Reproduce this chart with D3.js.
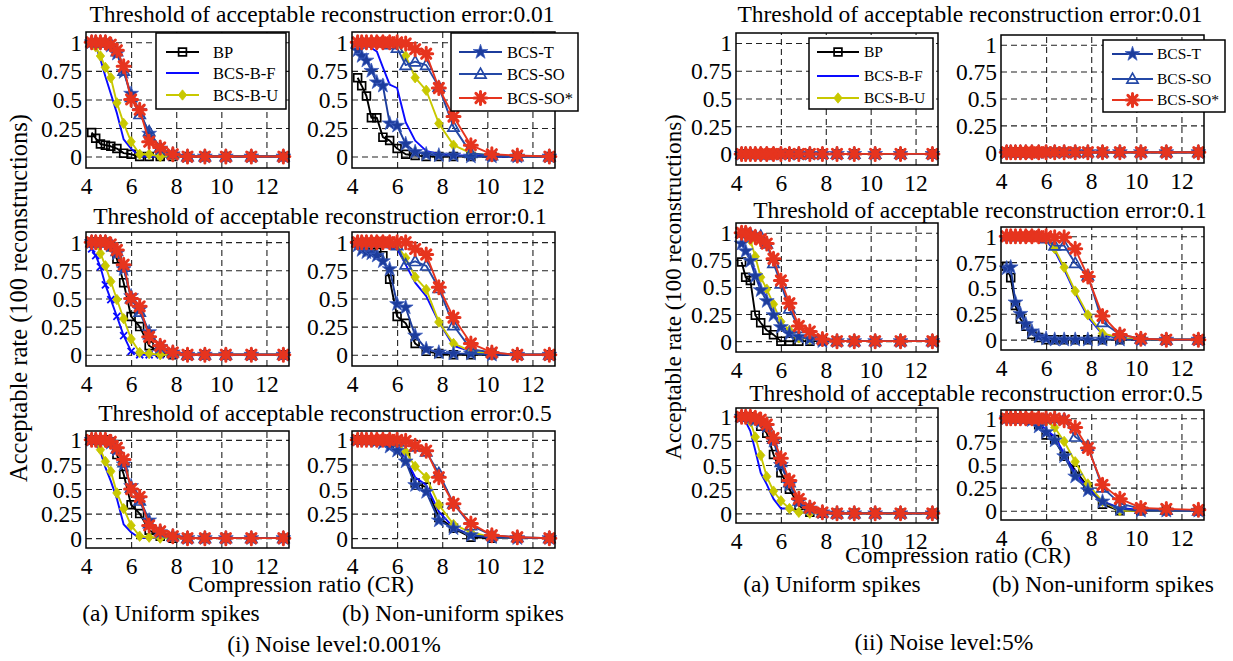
<!DOCTYPE html>
<html>
<head>
<meta charset="utf-8">
<script src="https://cdn.jsdelivr.net/npm/d3@7"></script>
<style>
  body { margin: 0; background: #fff; }
  svg { display: block; }
  text { font-family: "Liberation Serif", "Times New Roman", serif; fill: #000; }
</style>
</head>
<body>
<svg id="chart" width="1233" height="661"></svg>
<script>
// ---- data ----
const compressionRatio = [4.25, 4.43, 4.64, 4.86, 5.10, 5.37, 5.67, 6.00, 6.38, 6.80, 7.29, 7.85, 8.50, 9.27, 10.20, 11.33, 12.75];
const seriesNames = ["BP", "BCS-B-F", "BCS-B-U", "BCS-T", "BCS-SO", "BCS-SO*"];
const xTicks = [4, 6, 8, 10, 12];
const yTicks = [0, 0.25, 0.5, 0.75, 1];
const yTickLabels = ["0", "0.25", "0.5", "0.75", "1"];
const thresholdTitles = [
  "Threshold of acceptable reconstruction error:0.01",
  "Threshold of acceptable reconstruction error:0.1",
  "Threshold of acceptable reconstruction error:0.5"
];
const spikeLabels = ["(a) Uniform spikes", "(b) Non-uniform spikes"];
const noiseLabels = ["(i) Noise level:0.001%", "(ii) Noise level:5%"];
const xAxisTitle = "Compression ratio (CR)";
const yAxisTitle = "Acceptable rate (100 reconstructions)";

// rows: BP, BCS-B-F, BCS-B-U, BCS-T, BCS-SO, BCS-SO*
const lowNoiseErr001Uniform = [
  [0.21, 0.16, 0.11, 0.10, 0.09, 0.07, 0.03, 0.02, 0, 0, 0, 0, 0, 0, 0, 0, 0],
  [1.00, 0.97, 0.85, 0.70, 0.55, 0.38, 0.15, 0.07, 0, 0, 0, 0, 0, 0, 0, 0, 0],
  [1.00, 0.96, 0.88, 0.78, 0.69, 0.47, 0.29, 0.13, 0.02, 0.02, 0, 0, 0, 0, 0, 0, 0],
  [1, 1, 1, 1, 0.97, 0.90, 0.74, 0.55, 0.40, 0.20, 0.07, 0.02, 0, 0, 0, 0, 0],
  [1, 1, 1, 1, 0.98, 0.92, 0.75, 0.52, 0.37, 0.22, 0.08, 0.02, 0, 0, 0, 0, 0],
  [1, 1, 1, 1, 0.98, 0.93, 0.79, 0.50, 0.41, 0.13, 0.08, 0.02, 0, 0, 0, 0, 0]
];
const lowNoiseErr001NonUniform = [
  [0.69, 0.62, 0.53, 0.34, 0.34, 0.17, 0.14, 0.07, 0.02, 0.01, 0, 0, 0, 0, 0, 0, 0],
  [1, 1, 0.98, 0.95, 0.92, 0.78, 0.63, 0.60, 0.30, 0.14, 0.05, 0.02, 0.01, 0.01, 0, 0, 0],
  [1, 1, 1, 1, 1, 1, 1, 0.99, 0.88, 0.69, 0.58, 0.29, 0.10, 0.03, 0.01, 0, 0],
  [0.93, 0.88, 0.84, 0.75, 0.65, 0.62, 0.29, 0.27, 0.11, 0.04, 0.02, 0.01, 0.01, 0, 0, 0, 0],
  [1, 1, 1, 1, 1, 1, 0.98, 0.95, 0.80, 0.83, 0.80, 0.61, 0.26, 0.03, 0.01, 0, 0],
  [1, 1, 1, 1, 1, 1, 1, 1, 0.99, 0.94, 0.90, 0.60, 0.35, 0.10, 0.02, 0.01, 0]
];
const lowNoiseErr01Uniform = [
  [1, 1, 1, 1, 0.96, 0.85, 0.64, 0.34, 0.25, 0.08, 0.02, 0, 0, 0, 0, 0, 0],
  [0.94, 0.88, 0.78, 0.62, 0.49, 0.34, 0.17, 0.03, 0, 0, 0, 0, 0, 0, 0, 0, 0],
  [1, 0.98, 0.90, 0.79, 0.65, 0.49, 0.32, 0.14, 0.02, 0.01, 0, 0, 0, 0, 0, 0, 0],
  [1, 1, 1, 1, 0.97, 0.90, 0.76, 0.52, 0.40, 0.20, 0.07, 0.02, 0, 0, 0, 0, 0],
  [1, 1, 1, 1, 0.98, 0.92, 0.78, 0.50, 0.38, 0.18, 0.08, 0.02, 0, 0, 0, 0, 0],
  [1, 1, 1, 1, 0.98, 0.93, 0.80, 0.50, 0.43, 0.16, 0.08, 0.02, 0, 0, 0, 0, 0]
];
const lowNoiseErr01NonUniform = [
  [0.99, 0.97, 0.95, 0.93, 0.91, 0.88, 0.67, 0.34, 0.28, 0.10, 0.03, 0.01, 0, 0, 0, 0, 0],
  [1, 1, 0.99, 0.98, 0.97, 0.96, 0.95, 0.94, 0.80, 0.64, 0.52, 0.29, 0.08, 0.03, 0.01, 0, 0],
  [1, 1, 1, 1, 1, 1, 0.99, 0.97, 0.86, 0.69, 0.58, 0.29, 0.10, 0.03, 0.01, 0, 0],
  [0.97, 0.93, 0.91, 0.90, 0.88, 0.83, 0.76, 0.45, 0.42, 0.17, 0.05, 0.02, 0.01, 0.01, 0, 0, 0],
  [1, 1, 1, 1, 1, 1, 0.99, 0.97, 0.80, 0.83, 0.79, 0.59, 0.26, 0.05, 0.02, 0, 0],
  [1, 1, 1, 1, 1, 1, 1, 1, 1, 0.94, 0.89, 0.60, 0.33, 0.10, 0.02, 0, 0]
];
const lowNoiseErr05Uniform = [
  [1, 1, 1, 1, 0.98, 0.85, 0.65, 0.34, 0.25, 0.08, 0.02, 0, 0, 0, 0, 0, 0],
  [1, 0.95, 0.88, 0.72, 0.58, 0.40, 0.14, 0.06, 0, 0, 0, 0, 0, 0, 0, 0, 0],
  [1, 0.98, 0.90, 0.78, 0.68, 0.46, 0.30, 0.13, 0.02, 0.01, 0, 0, 0, 0, 0, 0, 0],
  [1, 1, 1, 1, 0.97, 0.90, 0.75, 0.53, 0.40, 0.18, 0.06, 0.02, 0, 0, 0, 0, 0],
  [1, 1, 1, 1, 0.98, 0.91, 0.77, 0.51, 0.38, 0.15, 0.07, 0.02, 0, 0, 0, 0, 0],
  [1, 1, 1, 1, 0.98, 0.92, 0.80, 0.50, 0.42, 0.13, 0.07, 0.02, 0, 0, 0, 0, 0]
];
const lowNoiseErr05NonUniform = [
  [1, 1, 1, 1, 1, 0.99, 0.97, 0.93, 0.82, 0.56, 0.52, 0.21, 0.10, 0.01, 0, 0, 0],
  [1, 1, 1, 1, 1, 1, 0.98, 0.95, 0.81, 0.62, 0.54, 0.27, 0.11, 0.03, 0.01, 0, 0],
  [1, 1, 1, 1, 1, 1, 0.99, 0.97, 0.88, 0.73, 0.62, 0.34, 0.14, 0.06, 0.01, 0, 0],
  [1, 1, 1, 1, 0.99, 0.97, 0.93, 0.89, 0.78, 0.54, 0.47, 0.18, 0.10, 0.03, 0.01, 0, 0],
  [1, 1, 1, 1, 1, 1, 1, 0.99, 0.98, 0.93, 0.88, 0.66, 0.35, 0.13, 0.03, 0.01, 0],
  [1, 1, 1, 1, 1, 1, 1, 1, 0.99, 0.94, 0.89, 0.62, 0.35, 0.15, 0.03, 0.01, 0]
];
const highNoiseErr001Uniform = [
  [0, 0, 0, 0, 0, 0, 0, 0, 0, 0, 0, 0, 0, 0, 0, 0, 0],
  [0, 0, 0, 0, 0, 0, 0, 0, 0, 0, 0, 0, 0, 0, 0, 0, 0],
  [0, 0, 0, 0, 0, 0, 0, 0, 0, 0, 0, 0, 0, 0, 0, 0, 0],
  [0, 0, 0, 0, 0, 0, 0, 0, 0, 0, 0, 0, 0, 0, 0, 0, 0],
  [0, 0, 0, 0, 0, 0, 0, 0, 0, 0, 0, 0, 0, 0, 0, 0, 0],
  [0, 0, 0, 0, 0, 0, 0, 0, 0, 0, 0, 0, 0, 0, 0, 0, 0]
];
const highNoiseErr001NonUniform = [
  [0, 0, 0, 0, 0, 0, 0, 0, 0, 0, 0, 0, 0, 0, 0, 0, 0],
  [0, 0, 0, 0, 0, 0, 0, 0, 0, 0, 0, 0, 0, 0, 0, 0, 0],
  [0, 0, 0, 0, 0, 0, 0, 0, 0, 0, 0, 0, 0, 0, 0, 0, 0],
  [0, 0, 0, 0, 0, 0, 0, 0, 0, 0, 0, 0, 0, 0, 0, 0, 0],
  [0, 0, 0, 0, 0, 0, 0, 0, 0, 0, 0, 0, 0, 0, 0, 0, 0],
  [0, 0, 0, 0, 0, 0, 0, 0, 0, 0, 0, 0, 0, 0, 0, 0, 0]
];
const highNoiseErr01Uniform = [
  [0.73, 0.59, 0.56, 0.24, 0.17, 0.10, 0.06, 0, 0, 0, 0, 0, 0, 0, 0, 0, 0],
  [0.93, 0.86, 0.77, 0.63, 0.50, 0.40, 0.27, 0.15, 0.08, 0.05, 0.02, 0, 0, 0, 0, 0, 0],
  [1, 0.98, 0.93, 0.78, 0.59, 0.48, 0.34, 0.18, 0.10, 0.03, 0.02, 0, 0, 0, 0, 0, 0],
  [0.90, 0.83, 0.74, 0.60, 0.47, 0.37, 0.24, 0.13, 0.07, 0.04, 0.02, 0, 0, 0, 0, 0, 0],
  [1, 1, 0.99, 0.97, 0.97, 0.90, 0.72, 0.53, 0.30, 0.12, 0.07, 0.02, 0, 0, 0, 0, 0],
  [1, 1, 0.97, 0.96, 0.94, 0.90, 0.76, 0.56, 0.35, 0.14, 0.09, 0.02, 0, 0, 0, 0, 0]
];
const highNoiseErr01NonUniform = [
  [0.71, 0.60, 0.33, 0.20, 0.13, 0.05, 0.02, 0, 0, 0, 0, 0, 0, 0, 0, 0, 0],
  [1, 1, 1, 1, 1, 1, 0.99, 0.96, 0.86, 0.68, 0.45, 0.22, 0.05, 0.01, 0, 0, 0],
  [1, 1, 1, 1, 1, 1, 1, 0.97, 0.88, 0.70, 0.47, 0.24, 0.06, 0.02, 0, 0, 0],
  [0.69, 0.70, 0.36, 0.25, 0.15, 0.08, 0.03, 0.01, 0, 0, 0, 0, 0, 0, 0, 0, 0],
  [1, 1, 1, 1, 1, 1, 1, 0.98, 0.91, 0.91, 0.74, 0.62, 0.17, 0.05, 0.01, 0, 0],
  [1, 1, 1, 1, 1, 1, 1, 1, 0.99, 0.99, 0.88, 0.61, 0.23, 0.05, 0.01, 0, 0]
];
const highNoiseErr05Uniform = [
  [1, 1, 1, 0.97, 0.90, 0.83, 0.61, 0.42, 0.25, 0.08, 0.01, 0, 0, 0, 0, 0, 0],
  [1, 0.95, 0.85, 0.65, 0.42, 0.30, 0.15, 0.05, 0.05, 0.01, 0, 0, 0, 0, 0, 0, 0],
  [1, 0.98, 0.95, 0.79, 0.60, 0.38, 0.23, 0.13, 0.05, 0.01, 0, 0, 0, 0, 0, 0, 0],
  [1, 1, 0.99, 0.97, 0.95, 0.90, 0.75, 0.50, 0.30, 0.12, 0.05, 0.01, 0, 0, 0, 0, 0],
  [1, 1, 1, 0.98, 0.96, 0.91, 0.77, 0.53, 0.32, 0.13, 0.06, 0.01, 0, 0, 0, 0, 0],
  [1, 1, 1, 0.99, 0.97, 0.92, 0.78, 0.57, 0.34, 0.15, 0.06, 0.01, 0, 0, 0, 0, 0]
];
const highNoiseErr05NonUniform = [
  [1, 1, 1, 1, 1, 0.98, 0.93, 0.82, 0.77, 0.59, 0.44, 0.26, 0.07, 0, 0, 0, 0],
  [1, 1, 1, 1, 1, 0.99, 0.95, 0.88, 0.80, 0.62, 0.40, 0.25, 0.10, 0.03, 0.01, 0, 0],
  [1, 1, 1, 1, 1, 1, 0.99, 0.97, 0.90, 0.75, 0.53, 0.29, 0.10, 0, 0, 0, 0],
  [1, 1, 1, 1, 1, 0.98, 0.91, 0.85, 0.76, 0.59, 0.37, 0.22, 0.10, 0.02, 0, 0, 0],
  [1, 1, 1, 1, 1, 1, 1, 1, 1, 0.99, 0.80, 0.70, 0.25, 0.08, 0.02, 0.01, 0],
  [1, 1, 1, 1, 1, 1, 1, 1, 1, 0.98, 0.90, 0.68, 0.28, 0.13, 0.03, 0.02, 0.01]
];

// ---- styles ----
const seriesStyle = {
  "BP":      { color: "#000000", marker: "square" },
  "BCS-B-F": { color: "#0a0aff", marker: "none" },
  "BCS-B-U": { color: "#c8c800", marker: "diamond" },
  "BCS-T":   { color: "#1c3c9c", marker: "star" },
  "BCS-SO":  { color: "#2448a6", marker: "triangle" },
  "BCS-SO*": { color: "#e6341e", marker: "asterisk" }
};

const FONT = 23.5;
const svg = d3.select("#chart");

// ---- panel layout ----
const panels = [
  { data: lowNoiseErr001Uniform,     x0: 86,   x1: 289,  y0: 32,  y1: 168, legend: "a" },
  { data: lowNoiseErr001NonUniform,  x0: 352,  x1: 555,  y0: 32,  y1: 168, legend: "b" },
  { data: lowNoiseErr01Uniform,      x0: 86,   x1: 289,  y0: 232, y1: 366, bfMarker: "cross" },
  { data: lowNoiseErr01NonUniform,   x0: 352,  x1: 555,  y0: 232, y1: 366 },
  { data: lowNoiseErr05Uniform,      x0: 86,   x1: 289,  y0: 431, y1: 548 },
  { data: lowNoiseErr05NonUniform,   x0: 352,  x1: 555,  y0: 431, y1: 548 },
  { data: highNoiseErr001Uniform,    x0: 736,  x1: 938,  y0: 33,  y1: 165, legend: "ra" },
  { data: highNoiseErr001NonUniform, x0: 1001, x1: 1204, y0: 35,  y1: 163, legend: "rb" },
  { data: highNoiseErr01Uniform,     x0: 736,  x1: 938,  y0: 223, y1: 352 },
  { data: highNoiseErr01NonUniform,  x0: 1001, x1: 1204, y0: 227, y1: 350 },
  { data: highNoiseErr05Uniform,     x0: 736,  x1: 938,  y0: 408, y1: 523 },
  { data: highNoiseErr05NonUniform,  x0: 1001, x1: 1204, y0: 410, y1: 520 }
];

function markerPath(kind) {
  switch (kind) {
    case "square":   return "M-3.9,-3.9H3.9V3.9H-3.9Z";
    case "diamond":  return "M0,-5.2L4.2,0L0,5.2L-4.2,0Z";
    case "triangle": return "M0,-5.8L5.6,4.2L-5.6,4.2Z";
    case "star":     return d3.symbol(d3.symbolStar, 68)();
    case "asterisk": return "M-6.5,0H6.5M0,-6.5V6.5M-4.6,-4.6L4.6,4.6M-4.6,4.6L4.6,-4.6";
    case "cross":    return "M-3.5,-3.5L3.5,3.5M-3.5,3.5L3.5,-3.5";
    default: return null;
  }
}

function styleMarker(sel, kind, color) {
  if (kind === "square" || kind === "triangle") {
    sel.attr("fill", "none").attr("stroke", color).attr("stroke-width", 1.7);
  } else if (kind === "diamond") {
    sel.attr("fill", color).attr("stroke", color).attr("stroke-width", 0.8);
  } else if (kind === "star") {
    sel.attr("fill", color).attr("stroke", "#3f5fbf").attr("stroke-width", 0.8);
  } else if (kind === "asterisk") {
    sel.attr("fill", "none").attr("stroke", color).attr("stroke-width", 3).attr("stroke-linecap", "round");
  } else if (kind === "cross") {
    sel.attr("fill", "none").attr("stroke", color).attr("stroke-width", 1.8);
  }
}

function drawPanel(p) {
  const x = d3.scaleLinear().domain([4, 13]).range([p.x0, p.x1]);
  const y = d3.scaleLinear().domain([-0.1, 1.09]).range([p.y1, p.y0]);
  const g = svg.append("g");
  const h = p.y1 - p.y0, w = p.x1 - p.x0;

  // dashed grid
  const gx = g.append("g").attr("transform", `translate(0,${p.y1})`)
    .call(d3.axisBottom(x).tickValues(xTicks.slice(1)).tickSize(-h).tickFormat(""));
  const gy = g.append("g").attr("transform", `translate(${p.x0},0)`)
    .call(d3.axisLeft(y).tickValues(yTicks).tickSize(-w).tickFormat(""));
  [gx, gy].forEach(a => {
    a.select(".domain").remove();
    a.selectAll(".tick line").attr("stroke", "#222").attr("stroke-width", 1.1).attr("stroke-dasharray", "6,4");
  });

  // tick labels
  const ax = g.append("g").attr("transform", `translate(0,${p.y1})`)
    .call(d3.axisBottom(x).tickValues(xTicks).tickSize(0).tickPadding(0).tickFormat(d3.format("d")));
  ax.select(".domain").remove();
  ax.selectAll("text").attr("font-size", FONT).attr("dy", null).attr("y", 26)
    .style("font-family", '"Liberation Serif", serif').attr("fill", "#000");
  const ay = g.append("g").attr("transform", `translate(${p.x0},0)`)
    .call(d3.axisLeft(y).tickValues(yTicks).tickSize(0).tickPadding(4)
      .tickFormat((d, i) => yTickLabels[i]));
  ay.select(".domain").remove();
  ay.selectAll("text").attr("font-size", FONT).attr("dy", "0.34em")
    .style("font-family", '"Liberation Serif", serif').attr("fill", "#000");

  // series
  const line = d3.line().x((d, i) => x(compressionRatio[i])).y(d => y(d));
  seriesNames.forEach((name, si) => {
    const st = seriesStyle[name];
    const vals = p.data[si];
    g.append("path").attr("d", line(vals)).attr("fill", "none")
      .attr("stroke", st.color).attr("stroke-width", 1.9).attr("stroke-linejoin", "round");
    const kind = name === "BCS-B-F" ? (p.bfMarker || "none") : st.marker;
    const path = markerPath(kind);
    if (path) {
      const m = g.append("g").selectAll("path").data(vals).join("path")
        .attr("d", path)
        .attr("transform", (d, i) => `translate(${x(compressionRatio[i])},${y(d)})`);
      styleMarker(m, kind, st.color);
    }
  });

  // frame
  g.append("rect").attr("x", p.x0).attr("y", p.y0).attr("width", w).attr("height", h)
    .attr("fill", "none").attr("stroke", "#000").attr("stroke-width", 1.5);
}

panels.forEach(drawPanel);

// ---- legends ----
const legends = [
  { names: ["BP", "BCS-B-F", "BCS-B-U"],   box: [156, 33, 130, 76],  rows: [52, 73, 95],  line: [166, 199], tx: 213, fs: 16.5 },
  { names: ["BCS-T", "BCS-SO", "BCS-SO*"], box: [451, 33, 127, 78],  rows: [52, 74, 98],  line: [459, 502], tx: 507, fs: 16.5 },
  { names: ["BP", "BCS-B-F", "BCS-B-U"],   box: [809, 38, 124, 71],  rows: [52, 76, 98],  line: [817, 859], tx: 864, fs: 15.5 },
  { names: ["BCS-T", "BCS-SO", "BCS-SO*"], box: [1103, 40, 122, 72], rows: [54, 79, 100], line: [1112, 1153], tx: 1157, fs: 15.5 }
];
legends.forEach(L => {
  const g = svg.append("g");
  g.append("rect").attr("x", L.box[0]).attr("y", L.box[1]).attr("width", L.box[2]).attr("height", L.box[3])
    .attr("fill", "#fff").attr("stroke", "#000").attr("stroke-width", 1.5);
  L.names.forEach((name, i) => {
    const st = seriesStyle[name];
    const yy = L.rows[i];
    g.append("line").attr("x1", L.line[0]).attr("x2", L.line[1]).attr("y1", yy).attr("y2", yy)
      .attr("stroke", st.color).attr("stroke-width", 2.2);
    const path = markerPath(st.marker);
    if (path) {
      const m = g.append("path").attr("d", path)
        .attr("transform", `translate(${(L.line[0] + L.line[1]) / 2},${yy})`);
      styleMarker(m, st.marker, st.color);
    }
    g.append("text").attr("x", L.tx).attr("y", yy).attr("dy", "0.35em")
      .attr("font-size", L.fs).text(name);
  });
});

// ---- titles and labels ----
const textItems = [
  { t: thresholdTitles[0], x: 322, y: 22 },
  { t: thresholdTitles[1], x: 320, y: 224 },
  { t: thresholdTitles[2], x: 325, y: 421 },
  { t: thresholdTitles[0], x: 970, y: 22 },
  { t: thresholdTitles[1], x: 980, y: 218 },
  { t: thresholdTitles[2], x: 976, y: 401 },
  { t: xAxisTitle, x: 301, y: 592 },
  { t: xAxisTitle, x: 958, y: 563 },
  { t: spikeLabels[0], x: 171, y: 621 },
  { t: spikeLabels[1], x: 453, y: 621 },
  { t: spikeLabels[0], x: 832, y: 592 },
  { t: spikeLabels[1], x: 1103, y: 592 },
  { t: noiseLabels[0], x: 334, y: 652 },
  { t: noiseLabels[1], x: 944, y: 650 }
];
textItems.forEach(d => {
  svg.append("text").attr("x", d.x).attr("y", d.y).attr("text-anchor", "middle")
    .attr("font-size", FONT).text(d.t);
});
[{ x: 27, y: 298, fs: 24.5 }, { x: 681, y: 287, fs: 23 }].forEach(d => {
  svg.append("text").attr("transform", `translate(${d.x},${d.y}) rotate(-90)`)
    .attr("text-anchor", "middle").attr("font-size", d.fs).text(yAxisTitle);
});
</script>
</body>
</html>
